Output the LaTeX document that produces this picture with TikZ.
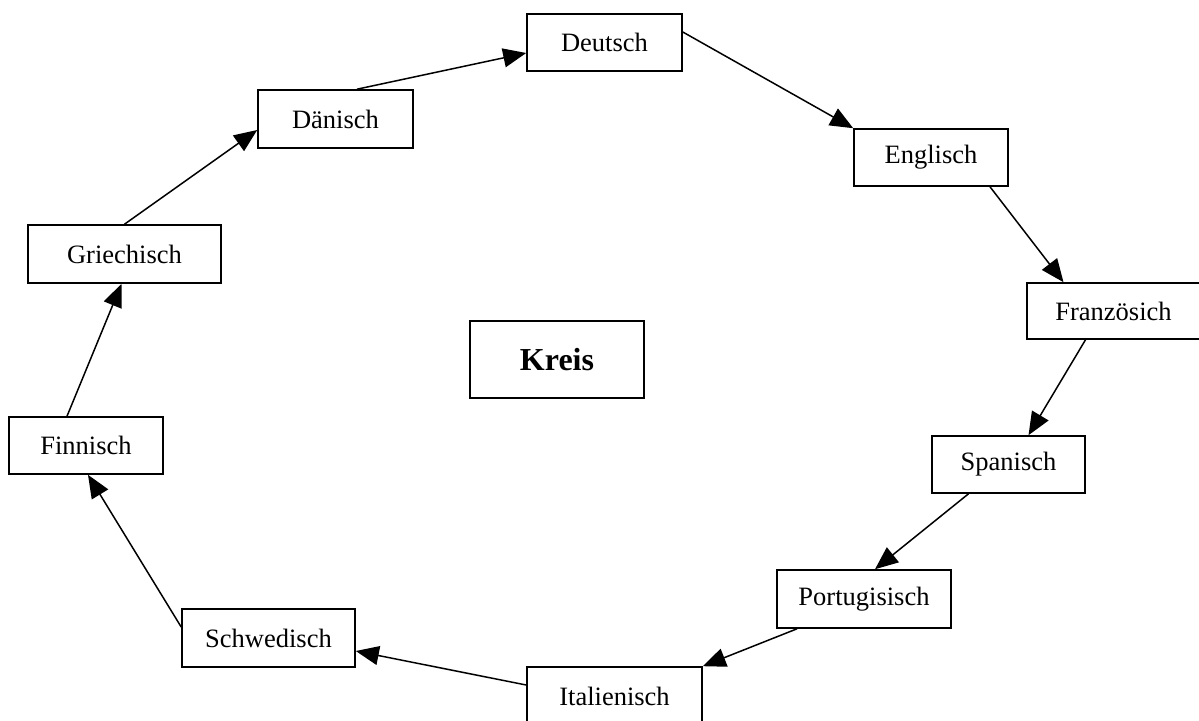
\documentclass[tikz,border=0pt]{standalone}
\usepackage{fontspec}
\setmainfont{Liberation Serif}
\usetikzlibrary{arrows.meta}
\tikzset{
  lang/.style={draw=black, line width=1.6pt, fill=white, inner sep=0pt, font=\fontsize{26.5}{30}\selectfont, minimum height=57pt},
  titlebox/.style={draw=black, line width=2.4pt, fill=white, inner sep=0pt, font=\fontsize{32}{36}\selectfont\bfseries},
  conn/.style={line width=1.5pt, -{Triangle[length=23pt,width=19pt]}}
}
\begin{document}
\begin{tikzpicture}[x=1pt,y=-1pt]
\useasboundingbox (0,0) rectangle (1199,720);
\fill[white] (0,0) rectangle (1199,720);
\node[lang, minimum width=155pt] (deu) at (604.5,42.5) {Deutsch};
\node[lang, minimum width=155pt, minimum height=58pt] (dan) at (335.5,119) {Dänisch};
\node[lang, minimum width=154pt] (eng) at (931,157.5) {Englisch};
\node[lang, minimum width=193pt, minimum height=58pt] (gri) at (124.5,254) {Griechisch};
\node[lang, minimum width=173pt, minimum height=56pt] (fra) at (1113.5,311) {Französich};
\node[titlebox, minimum width=174pt, minimum height=77pt] (kre) at (557,359.5) {Kreis};
\node[lang, minimum width=154pt] (fin) at (86,445.5) {Finnisch};
\node[lang, minimum width=153pt] (spa) at (1008.5,464.5) {Spanisch};
\node[lang, minimum width=174pt, minimum height=58pt] (por) at (864,599) {Portugisisch};
\node[lang, minimum width=173pt, minimum height=58pt] (sch) at (268.5,638) {Schwedisch};
\node[lang, minimum width=175pt, minimum height=58pt] (ita) at (614.5,696) {Italienisch};

\draw[conn] ([xshift=21.5pt]dan.north) -- ([yshift=-10.5pt]deu.west);
\draw[conn] ([yshift=10.5pt]deu.east) -- (eng.north west);
\draw[conn] ([xshift=59pt]eng.south) -- ([xshift=-50pt]fra.north);
\draw[conn] ([xshift=-28pt]fra.south) -- ([xshift=20pt]spa.north);
\draw[conn] ([xshift=-40pt]spa.south) -- ([xshift=11pt]por.north);
\draw[conn] ([xshift=-67pt]por.south) -- (ita.north east);
\draw[conn] ([yshift=11pt]ita.west) -- ([yshift=-13pt]sch.east);
\draw[conn] ([yshift=11pt]sch.west) -- ([xshift=2pt]fin.south);
\draw[conn] ([xshift=-19pt]fin.north) -- ([xshift=-3pt]gri.south);
\draw[conn] (gri.north) -- ([yshift=-11pt]dan.west);
\end{tikzpicture}
\end{document}
